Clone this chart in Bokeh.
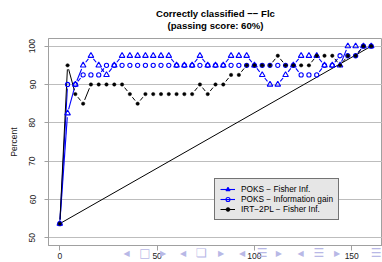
from math import hypot
from bokeh.plotting import figure
from bokeh.models import Range1d, Legend, LegendItem, Label, FixedTicker
from bokeh.embed import file_html
from bokeh.resources import INLINE

# ---- data ----
n_items = [0, 4, 8, 12, 16, 20, 24, 28, 32, 36, 40, 44, 48, 52, 56, 60, 64, 68, 72, 76,
           80, 84, 88, 92, 96, 100, 104, 108, 112, 116, 120, 124, 128, 132, 136, 140,
           144, 148, 152, 156, 160]
poks_fisher = [53.7, 82.5, 90, 95, 97.5, 95, 92.5, 95, 97.5, 97.5, 97.5, 97.5, 97.5, 97.5,
               97.5, 95, 95, 95, 97.5, 95, 95, 95, 97.5, 97.5, 97.5, 95, 92.5, 90, 90, 92.5,
               95, 97.5, 97.5, 97.5, 95, 95, 95, 100, 100, 100, 100]
poks_infogain = [53.7, 90, 90, 92.5, 92.5, 92.5, 95, 95, 95, 95, 95, 95, 95, 95, 95, 95, 95,
                 95, 95, 95, 95, 95, 95, 95, 95, 95, 95, 95, 95, 95, 95, 92.5, 92.5, 92.5,
                 95, 95, 97.5, 97.5, 97.5, 100, 100]
irt_fisher = [53.7, 95, 87.5, 85, 90, 90, 90, 90, 90, 87.5, 85, 87.5, 87.5, 87.5, 87.5, 87.5,
              87.5, 87.5, 90, 87.5, 90, 90, 92.5, 92.5, 95, 95, 95, 95, 97.5, 95, 95, 95, 95,
              97.5, 97.5, 97.5, 95, 97.5, 97.5, 100, 100]
diag_x = [0, 160]
diag_y = [53.7, 100]

x_ticks = [0, 50, 100, 150]
y_ticks = [50, 60, 70, 80, 90, 100]
labels = ["POKS \u2212 Fisher Inf.", "POKS \u2212 Information gain", "IRT\u22122PL \u2212 Fisher Inf."]
title_lines = ["Correctly classified \u2212\u2212 Flc", "(passing score: 60%)"]

# ---- geometry ----
FL, FT = 48, 38          # frame left / top on the canvas
FW, FH = 334, 207
X0, X1 = -5.8, 165.8
Y0, Y1 = 48, 102
SX = FW / (X1 - X0)
SY = FH / (Y1 - Y0)
GAP = 4.0  # px gap around points (R type="b")

FONT = "Liberation Sans"
BLUE = "#0000ff"

def gapped(xs, ys, gap=GAP):
    a, b, c, d = [], [], [], []
    for i in range(len(xs) - 1):
        dx = (xs[i + 1] - xs[i]) * SX
        dy = (ys[i + 1] - ys[i]) * SY
        L = hypot(dx, dy)
        if L <= 2 * gap:
            continue
        f = gap / L
        a.append(xs[i] + (xs[i + 1] - xs[i]) * f)
        b.append(ys[i] + (ys[i + 1] - ys[i]) * f)
        c.append(xs[i + 1] - (xs[i + 1] - xs[i]) * f)
        d.append(ys[i + 1] - (ys[i + 1] - ys[i]) * f)
    return dict(x0=a, y0=b, x1=c, y1=d)

def canvas_to_data(px, py):
    return X0 + (px - FL) / SX, Y1 - (py - FT) / SY

p = figure(frame_width=FW, frame_height=FH,
           x_range=Range1d(X0, X1), y_range=Range1d(Y0, Y1),
           output_backend="svg", toolbar_location=None,
           min_border_left=FL, min_border_right=0, min_border_top=FT, min_border_bottom=17)
p.title = None
p.outline_line_color = "#a0a0a0"
p.background_fill_color = "white"
p.border_fill_color = "white"

# two-line bold title, centred over the plot frame
for line, py in zip(title_lines, [13, 25]):
    tx, ty = canvas_to_data(FL + FW / 2, py)
    p.add_layout(Label(x=tx, y=ty, text=line, text_font=FONT, text_font_size="9.6px",
                       text_font_style="bold", text_color="black",
                       text_align="center", text_baseline="middle"), "above")

# axes
for ax in (p.xaxis[0], p.yaxis[0]):
    ax.axis_line_color = "#a0a0a0"
    ax.major_tick_line_color = "#a0a0a0"
    ax.minor_tick_line_color = None
    ax.major_label_text_font = FONT
    ax.major_label_text_font_size = "8.5px"
    ax.major_label_text_color = "#222222"
    ax.major_tick_in = 0
p.xaxis.ticker = FixedTicker(ticks=x_ticks)
p.yaxis.ticker = FixedTicker(ticks=y_ticks)
p.xaxis.major_tick_out = 5
p.xaxis.major_label_standoff = 2
p.yaxis.major_tick_out = 4
p.yaxis.major_label_standoff = 9
p.yaxis.major_label_orientation = "parallel"
p.yaxis.axis_label = "Percent"
p.yaxis.axis_label_text_font = FONT
p.yaxis.axis_label_text_font_size = "8.5px"
p.yaxis.axis_label_text_font_style = "normal"
p.yaxis.axis_label_text_color = "#222222"
p.yaxis.axis_label_standoff = 8

p.xgrid.visible = False
p.ygrid.ticker = FixedTicker(ticks=y_ticks)
p.ygrid.grid_line_color = "#bdbdbd"
p.ygrid.grid_line_width = 1

# reference diagonal
p.line(diag_x, diag_y, line_color="black", line_width=1)

# series
seg_f = p.segment(source=gapped(n_items, poks_fisher), x0="x0", y0="y0", x1="x1", y1="y1",
                  line_color=BLUE, line_width=1.1)
seg_i = p.segment(source=gapped(n_items, poks_infogain), x0="x0", y0="y0", x1="x1", y1="y1",
                  line_color=BLUE, line_width=1.1)
seg_r = p.segment(source=gapped(n_items, irt_fisher), x0="x0", y0="y0", x1="x1", y1="y1",
                  line_color="black", line_width=1)
pt_i = p.scatter(n_items, poks_infogain, marker="circle", size=4.2, fill_color=None,
                 line_color=BLUE, line_width=1.1)
pt_f = p.scatter(n_items, poks_fisher, marker="triangle", size=5.6, fill_color=None,
                 line_color=BLUE, line_width=1.1)
pt_r = p.scatter(n_items, irt_fisher, marker="circle", size=3.4, fill_color="black",
                 line_color="black", line_width=0.5)

legend = Legend(items=[LegendItem(label=labels[0], renderers=[seg_f, pt_f]),
                       LegendItem(label=labels[1], renderers=[seg_i, pt_i]),
                       LegendItem(label=labels[2], renderers=[seg_r, pt_r])],
                location=(166, 25), margin=0, padding=5, spacing=0,
                glyph_width=15, glyph_height=10, label_height=10, label_standoff=6,
                label_text_font=FONT, label_text_font_size="8.3px",
                label_text_color="black",
                background_fill_color="#e6e6e6", background_fill_alpha=1.0,
                border_line_color="black", border_line_width=1)
p.add_layout(legend, "center")

# beamer navigation symbols (slide decoration), positions in canvas pixels
nav = [(126, "\u25c0", 8), (144.3, "\u25a1", 12), (162.7, "\u25b6", 8),
       (182.7, "\u25c0", 8), (201, "\u274f", 12), (220.7, "\u25b6", 8),
       (241.7, "\u25c0", 8), (261.7, "\u2630", 12), (278.3, "\u25b6", 8),
       (300, "\u25c0", 8), (318.3, "\u2630", 12), (336.7, "\u25b6", 8),
       (375.7, "\u2630", 12)]
NAV_Y = 252.5
for nx, ch, fs in nav:
    lx, ly = canvas_to_data(nx, NAV_Y)
    p.add_layout(Label(x=lx, y=ly, text=ch,
                       text_font="DejaVu Sans", text_font_size=f"{fs}px",
                       text_color="#b8b8e6", text_align="center", text_baseline="middle"),
                 "below")

open("out.html", "w").write(file_html(p, INLINE))
